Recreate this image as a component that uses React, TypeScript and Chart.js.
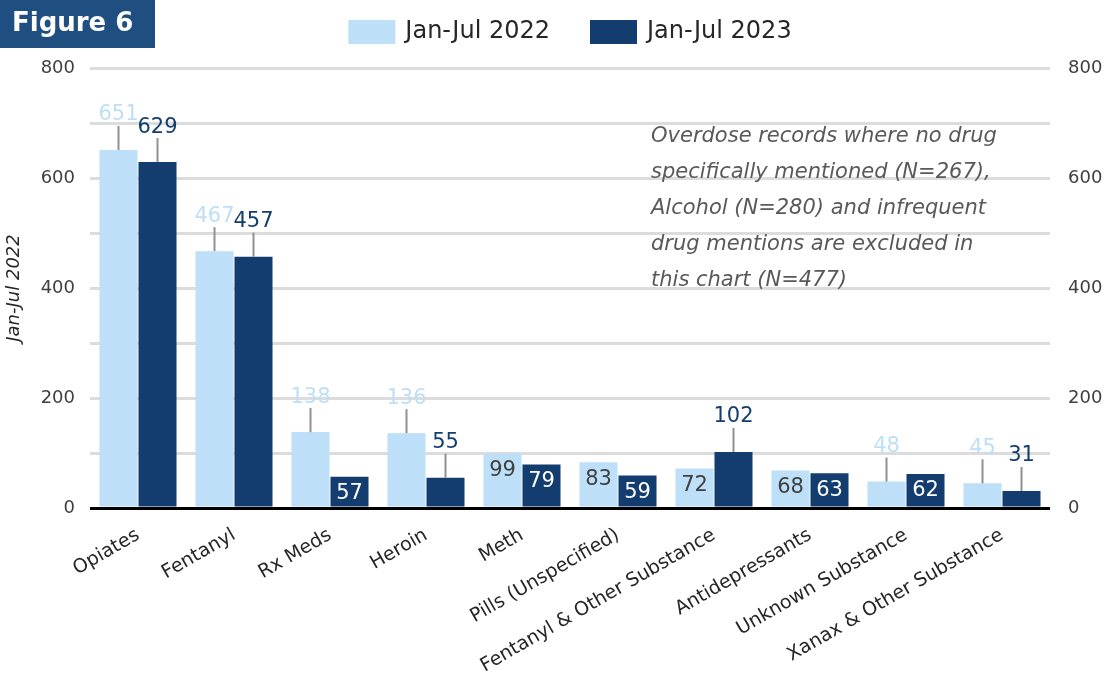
import React, { useEffect, useRef } from "react";
import { Chart, registerables } from "chart.js";

Chart.register(...registerables);

const categories = [
  "Opiates",
  "Fentanyl",
  "Rx Meds",
  "Heroin",
  "Meth",
  "Pills (Unspecified)",
  "Fentanyl & Other Substance",
  "Antidepressants",
  "Unknown Substance",
  "Xanax & Other Substance",
];
const seriesNames = ["Jan-Jul 2022", "Jan-Jul 2023"];
const values2022 = [651, 467, 138, 136, 99, 83, 72, 68, 48, 45];
const values2023 = [629, 457, 57, 55, 79, 59, 102, 63, 62, 31];
// whether the value label sits above the bar with a leader line
const callout2022 = [true, true, true, true, false, false, false, false, true, true];
const callout2023 = [true, true, false, true, false, false, true, false, false, true];
const yTickLabels = [0, 200, 400, 600, 800];
const noteLines = [
  "Overdose records where no drug",
  "specifically mentioned (N=267),",
  "Alcohol (N=280) and infrequent",
  "drug mentions are excluded in",
  "this chart (N=477)",
];
const figureTitle = "Figure 6";

const LIGHT = "#bddff8";
const DARK = "#133d6e";
const BANNER = "#1f4e80";
const FONT = "'DejaVu Sans', sans-serif";

const decorPlugin = {
  id: "decor",
  afterDatasetsDraw(chart: any) {
    const ctx = chart.ctx;
    const callouts = [callout2022, callout2023];
    const textCols = [LIGHT, DARK];
    const insideCols = ["#404040", "#ffffff"];
    ctx.save();
    ctx.font = `21px ${FONT}`;
    ctx.textAlign = "center";
    ctx.textBaseline = "middle";
    chart.data.datasets.forEach((ds: any, di: number) => {
      const meta = chart.getDatasetMeta(di);
      meta.data.forEach((bar: any, i: number) => {
        const v = ds.data[i];
        const x = bar.x;
        const top = bar.y;
        if (callouts[di][i]) {
          ctx.strokeStyle = "#909090";
          ctx.lineWidth = 2;
          ctx.beginPath();
          ctx.moveTo(x, top);
          ctx.lineTo(x, top - 24);
          ctx.stroke();
          ctx.fillStyle = textCols[di];
          ctx.fillText(String(v), x, top - 35);
        } else {
          ctx.fillStyle = insideCols[di];
          ctx.fillText(String(v), x, top + 17);
        }
      });
    });
    ctx.restore();
  },
  afterDraw(chart: any) {
    const ctx = chart.ctx;
    const area = chart.chartArea;
    ctx.save();
    // banner
    ctx.fillStyle = BANNER;
    ctx.fillRect(0, 0, 155, 48);
    ctx.fillStyle = "#ffffff";
    ctx.font = `bold 26px ${FONT}`;
    ctx.textAlign = "left";
    ctx.textBaseline = "middle";
    ctx.fillText(figureTitle, 12, 24);

    // legend
    ctx.font = `24px ${FONT}`;
    const w1 = ctx.measureText(seriesNames[0]).width;
    const w2 = ctx.measureText(seriesNames[1]).width;
    const boxW = 47;
    const boxH = 24;
    const gap = 10;
    const itemGap = 40;
    const total = boxW + gap + w1 + itemGap + boxW + gap + w2;
    let lx = (area.left + area.right) / 2 - total / 2;
    const ly = 32;
    ctx.fillStyle = LIGHT;
    ctx.fillRect(lx, ly - boxH / 2, boxW, boxH);
    ctx.fillStyle = "#262626";
    ctx.fillText(seriesNames[0], lx + boxW + gap, ly);
    lx += boxW + gap + w1 + itemGap;
    ctx.fillStyle = DARK;
    ctx.fillRect(lx, ly - boxH / 2, boxW, boxH);
    ctx.fillStyle = "#262626";
    ctx.fillText(seriesNames[1], lx + boxW + gap, ly);

    // note
    ctx.font = `italic 21px ${FONT}`;
    ctx.fillStyle = "#595959";
    ctx.textBaseline = "middle";
    noteLines.forEach((t, i) => {
      ctx.fillText(t, 651, 137 + i * 36);
    });
    ctx.restore();
  },
};

export default function App() {
  const ref = useRef<HTMLCanvasElement | null>(null);
  useEffect(() => {
    document.body.style.margin = "0";
    if (!ref.current) return;
    const tickCb = (v: any) => (yTickLabels.includes(Number(v)) ? String(v) : "");
    const chart = new Chart(ref.current, {
      type: "bar",
      data: {
        labels: categories,
        datasets: [
          {
            label: seriesNames[0],
            data: values2022,
            backgroundColor: LIGHT,
            categoryPercentage: 0.8125,
            barPercentage: 0.975,
            yAxisID: "y",
          },
          {
            label: seriesNames[1],
            data: values2023,
            backgroundColor: DARK,
            categoryPercentage: 0.8125,
            barPercentage: 0.975,
            yAxisID: "y",
          },
        ],
      },
      options: {
        responsive: false,
        animation: false,
        layout: { padding: { top: 68, left: 0, right: 0, bottom: 0 } },
        plugins: {
          legend: { display: false },
          tooltip: { enabled: false },
        },
        scales: {
          x: {
            grid: { display: false, drawTicks: false },
            border: { display: false },
            ticks: {
              color: "#262626",
              font: { family: FONT, size: 19 },
              maxRotation: 30,
              minRotation: 30,
              padding: 16,
              autoSkip: false,
            },
            afterFit: (s: any) => {
              s.height = 173;
            },
          },
          y: {
            position: "left",
            min: 0,
            max: 800,
            ticks: {
              stepSize: 100,
              callback: tickCb,
              color: "#404040",
              font: { family: FONT, size: 18 },
              padding: 15,
            },
            grid: {
              drawTicks: false,
              color: (c: any) => (c.tick && c.tick.value === 0 ? "#000000" : "#dcdcdc"),
              lineWidth: (c: any) => 3,
            },
            border: { display: false },
            title: {
              display: true,
              text: seriesNames[0],
              color: "#262626",
              font: { family: FONT, size: 18, style: "italic" },
            },
            afterFit: (s: any) => {
              s.width = 90;
            },
          },
          y2: {
            position: "right",
            min: 0,
            max: 800,
            ticks: {
              stepSize: 100,
              callback: tickCb,
              color: "#404040",
              font: { family: FONT, size: 18 },
              padding: 18,
            },
            grid: { display: false, drawTicks: false },
            border: { display: false },
            afterFit: (s: any) => {
              s.width = 62;
            },
          },
        },
      },
      plugins: [decorPlugin],
    });
    return () => chart.destroy();
  }, []);
  return (
    <div style={{ width: 1112, height: 681 }}>
      <canvas ref={ref} width={1112} height={681} style={{ display: "block" }} />
    </div>
  );
}
